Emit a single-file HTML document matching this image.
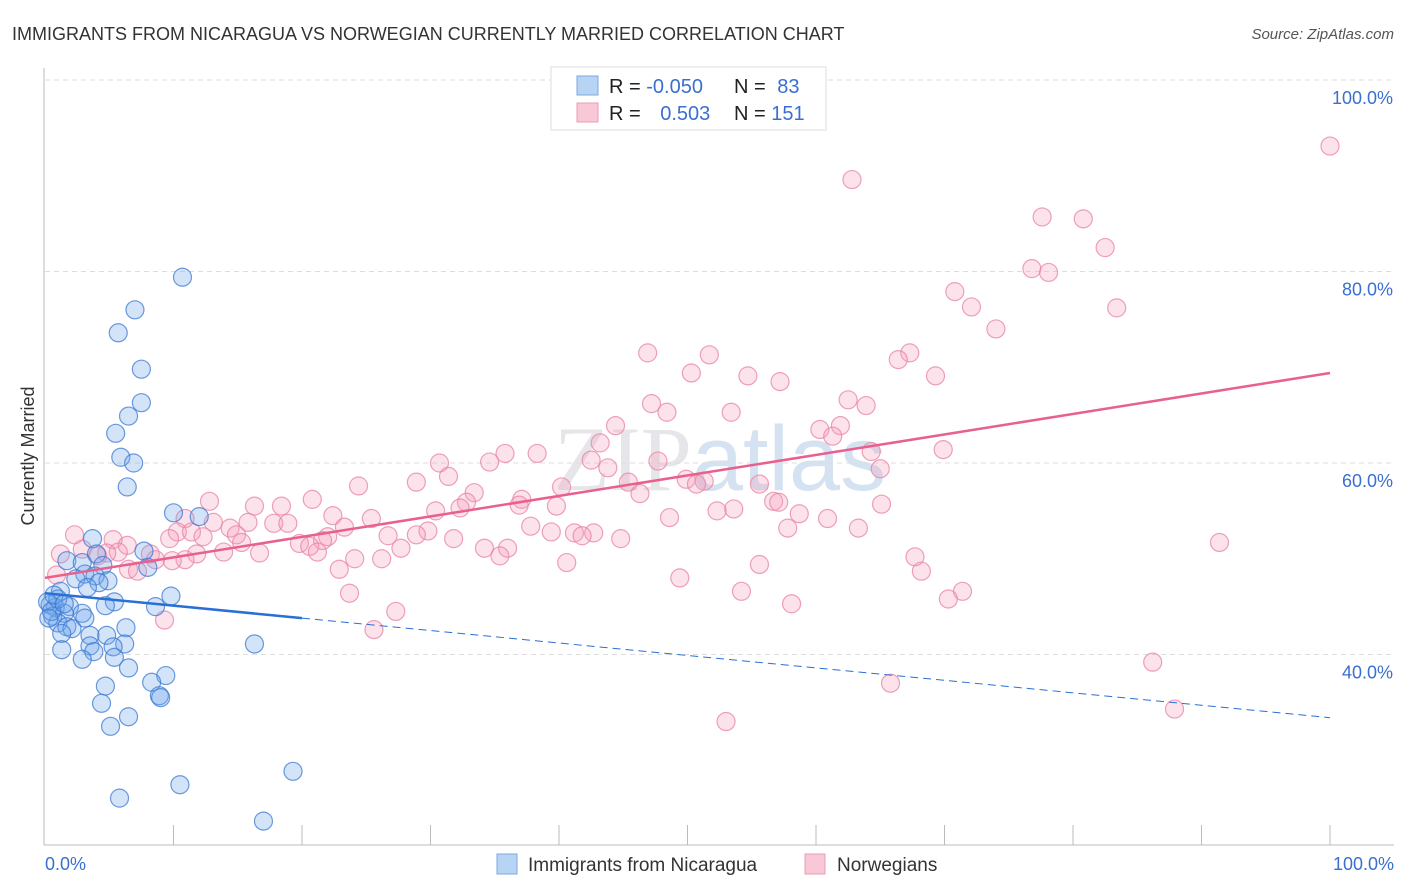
<!DOCTYPE html>
<html><head><meta charset="utf-8"><style>
body{margin:0;background:#fff;font-family:"Liberation Sans",sans-serif;}
svg{display:block}
</style></head><body>
<svg id="chart" width="1406" height="892" xmlns="http://www.w3.org/2000/svg">
<text x="12" y="40" font-size="18" fill="#333">IMMIGRANTS FROM NICARAGUA VS NORWEGIAN CURRENTLY MARRIED CORRELATION CHART</text>
<text x="1394" y="39" font-size="15" fill="#555" font-style="italic" text-anchor="end">Source: ZipAtlas.com</text>
<text x="720" y="490" font-size="92" fill="#e6e6ea" text-anchor="middle" font-family="Liberation Serif,serif">ZIP<tspan fill="#d4e2f2" font-family="Liberation Sans,sans-serif">atlas</tspan></text>
<g id="grid"></g>
<g id="pts"></g>
<g id="lines"></g>
<text transform="translate(34,456) rotate(-90)" font-size="18" fill="#333" text-anchor="middle">Currently Married</text>
<g>
<rect x="551" y="67" width="275" height="63" fill="#fff" stroke="#ddd"/>
<rect x="577" y="76" width="21" height="19" fill="#b8d4f5" stroke="#7ba7e0"/>
<rect x="577" y="103" width="21" height="19" fill="#f9c8d6" stroke="#eb9db5"/>
<text x="609" y="93" font-size="20" fill="#222">R = <tspan fill="#3a6fd0">-0.050</tspan></text>
<text x="734" y="93" font-size="20" fill="#222">N = <tspan fill="#3a6fd0" dx="6">83</tspan></text>
<text x="609" y="120" font-size="20" fill="#222">R = <tspan fill="#3a6fd0" dx="14">0.503</tspan></text>
<text x="734" y="120" font-size="20" fill="#222">N = <tspan fill="#3a6fd0">151</tspan></text>
</g>
<g>
<rect x="497" y="854" width="20" height="20" fill="#b8d4f5" stroke="#7ba7e0"/>
<text x="528" y="871" font-size="19" fill="#333">Immigrants from Nicaragua</text>
<rect x="805" y="854" width="20" height="20" fill="#f9c8d6" stroke="#eb9db5"/>
<text x="837" y="871" font-size="19" fill="#333">Norwegians</text>
</g>
</svg>
<script>
const yTicks=[100,80,60,40];
const yTickLabels=["100.0%","80.0%","60.0%","40.0%"];
const xTickLabels=["0.0%","100.0%"];
const blueX=[10.7,7.0,5.7,7.5,7.5,6.5,5.5,5.9,6.9,6.4,10.0,12.0,3.7,7.7,4.0,1.7,2.9,4.5,8.0,3.1,3.9,2.4,4.9,4.2,3.3,1.2,9.8,5.4,0.4,0.8,4.7,8.6,1.9,2.9,0.6,1.5,3.1,1.0,1.7,6.3,2.1,3.5,4.8,1.3,16.3,6.2,5.3,3.5,1.3,3.8,5.4,2.9,6.5,9.4,8.3,4.7,8.9,9.0,4.4,6.5,5.1,19.3,10.5,5.8,17.0,0.2,0.5,0.3,1.0,0.7,1.5];
const blueY=[79.4,76.0,73.6,69.8,66.3,64.9,63.1,60.6,60.0,57.5,54.8,54.4,52.1,50.8,50.5,49.8,49.6,49.3,49.1,48.4,48.2,47.9,47.7,47.5,47.0,46.6,46.1,45.5,45.2,44.9,45.1,45.0,45.0,44.3,44.0,44.3,43.8,43.3,42.9,42.8,42.7,42.0,42.0,42.2,41.1,41.1,40.8,40.9,40.5,40.3,39.7,39.5,38.6,37.8,37.1,36.7,35.7,35.5,34.9,33.5,32.5,27.8,26.4,25.0,22.6,45.5,44.5,43.8,45.8,46.2,45.3];
const pinkX=[100,62.8,77.6,80.8,82.5,76.8,78.1,70.8,72.1,83.4,74.0,46.9,51.7,67.3,66.4,50.3,54.7,69.3,57.2,47.2,62.5,63.9,48.4,53.4,44.4,60.3,61.9,61.3,43.2,69.9,64.3,35.8,38.3,34.6,42.5,47.7,30.7,43.8,65.0,31.4,49.9,51.3,45.4,28.9,24.4,40.2,50.7,55.6,33.4,46.3,12.8,20.8,37.1,32.8,56.7,57.1,65.1,16.3,18.4,36.9,39.8,32.3,53.6,52.3,30.4,58.7,22.4,60.9,10.9,25.4,48.6,15.8,13.1,17.8,18.9,23.3,37.8,57.8,63.3,14.4,10.3,11.4,29.8,39.4,41.2,42.7,28.9,14.9,26.7,12.3,2.3,22.0,41.8,21.6,31.8,44.8,5.3,9.7,19.8,15.3,91.4,6.4,2.9,20.6,34.2,36.0,27.7,21.2,5.7,13.9,8.2,11.8,1.2,4.8,16.7,4.1,26.2,35.4,24.1,67.7,8.6,10.9,9.9,40.6,6.5,7.2,22.9,68.2,0.9,49.4,55.6,23.7,27.3,54.2,71.4,70.3,58.1,9.3,25.6,86.2,65.8,87.9,53.0];
const pinkY=[93.1,89.6,85.7,85.5,82.5,80.3,79.9,77.9,76.3,76.2,74.0,71.5,71.3,71.5,70.8,69.4,69.1,69.1,68.5,66.2,66.6,66.0,65.3,65.3,63.9,63.5,63.9,62.8,62.1,61.4,61.2,61.0,61.0,60.1,60.3,60.2,60.0,59.5,59.4,58.6,58.3,58.1,58.0,58.0,57.6,57.5,57.8,57.8,56.9,56.8,56.0,56.2,56.2,55.9,56.0,55.9,55.7,55.5,55.5,55.6,55.5,55.3,55.2,55.0,55.0,54.7,54.5,54.2,54.2,54.2,54.3,53.8,53.8,53.7,53.7,53.3,53.4,53.2,53.2,53.2,52.8,52.8,52.9,52.8,52.7,52.7,52.5,52.5,52.4,52.3,52.5,52.3,52.4,51.9,52.1,52.1,52.0,52.1,51.6,51.7,51.7,51.4,51.0,51.3,51.1,51.1,51.1,50.7,50.7,50.7,50.5,50.5,50.5,50.6,50.6,50.3,50.0,50.3,50.0,50.2,49.9,49.9,49.8,49.6,48.9,48.7,48.9,48.7,48.3,48.0,49.4,46.4,44.5,46.6,46.6,45.8,45.3,43.6,42.6,39.2,37.0,34.3,33.0];
const blueTrendX=[0,20,100];
const blueTrendY=[46.4,43.8,33.4];
const pinkTrendX=[0,100];
const pinkTrendY=[48.0,69.4];
const NS="http://www.w3.org/2000/svg";
const xs=v=>45+v*12.85;
const ys=v=>80+(100-v)*9.575;
function mk(tag,attrs,parent){const e=document.createElementNS(NS,tag);for(const k in attrs)e.setAttribute(k,attrs[k]);document.getElementById(parent).appendChild(e);return e;}
yTicks.forEach((t,i)=>{
 const l=mk('line',{x1:45,x2:1394,y1:ys(t),y2:ys(t),stroke:'#ddd','stroke-dasharray':'5,4'},'grid');
 
 
 const tx=mk('text',{x:1393,y:ys(t)+24,'font-size':18,fill:'#3a6fd0','text-anchor':'end'},'grid');
 tx.textContent=yTickLabels[i];
 
 
});
const ax=mk('line',{x1:44,x2:44,y1:68,y2:845,stroke:'#bbb'},'grid');


const bx=mk('line',{x1:44,x2:1394,y1:845,y2:845,stroke:'#bbb'},'grid');


for(let i=1;i<=10;i++){const tk=mk('line',{x1:xs(i*10),x2:xs(i*10),y1:825,y2:845,stroke:'#bbb'},'grid');
 
 }
[[0,'start',45],[100,'end',1394]].forEach((d,i)=>{const t=mk('text',{x:d[2],y:870,'font-size':18,fill:'#3a6fd0','text-anchor':d[1]},'grid');t.textContent=xTickLabels[i];
 
 });
pinkX.forEach((v,i)=>{const c=mk('circle',{cx:xs(v),cy:ys(pinkY[i]),r:9,fill:'rgba(244,160,186,0.3)',stroke:'rgba(232,130,165,0.75)','stroke-width':1.2},'pts');
 
 });
blueX.forEach((v,i)=>{const c=mk('circle',{cx:xs(v),cy:ys(blueY[i]),r:9,fill:'rgba(110,165,235,0.3)',stroke:'rgba(60,120,210,0.75)','stroke-width':1.2},'pts');
 
 });
const b1=mk('line',{x1:xs(blueTrendX[0]),y1:ys(blueTrendY[0]),x2:xs(blueTrendX[1]),y2:ys(blueTrendY[1]),stroke:'#2a6fd6','stroke-width':2.5},'lines');


const b2=mk('line',{x1:xs(blueTrendX[1]),y1:ys(blueTrendY[1]),x2:xs(blueTrendX[2]),y2:ys(blueTrendY[2]),stroke:'#2a6fd6','stroke-width':1,'stroke-dasharray':'8,5'},'lines');


const p1=mk('line',{x1:xs(pinkTrendX[0]),y1:ys(pinkTrendY[0]),x2:xs(pinkTrendX[1]),y2:ys(pinkTrendY[1]),stroke:'#e8608e','stroke-width':2.5},'lines');


</script>
</body></html>
